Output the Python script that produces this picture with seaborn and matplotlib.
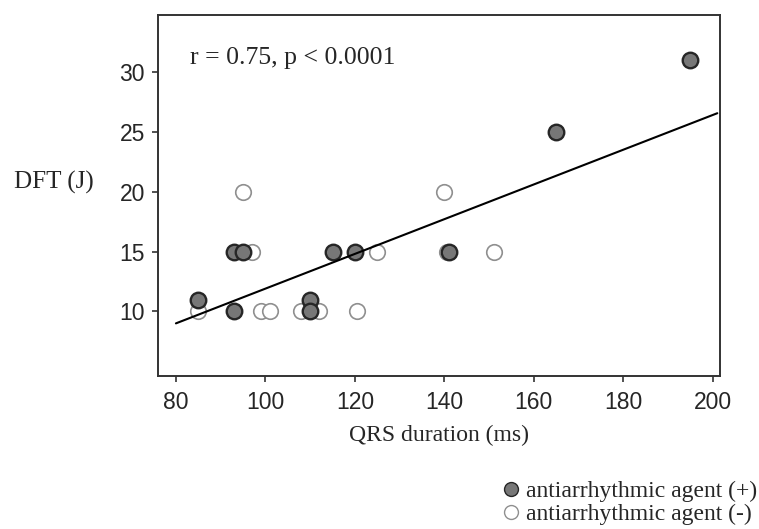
import numpy as np
import pandas as pd
import seaborn as sns
import matplotlib.pyplot as plt
from matplotlib.lines import Line2D

# data
agent_pos_qrs = [85, 93, 93, 95, 110, 110, 115, 120, 141, 165, 195]
agent_pos_dft = [11, 10, 15, 15, 11, 10, 15, 15, 15, 25, 31]
agent_neg_qrs = [85, 95, 97, 99, 101, 108, 112, 120.5, 125, 140, 140.5, 151]
agent_neg_dft = [10, 20, 15, 10, 10, 10, 10, 10, 15, 20, 15, 15]

# regression line as drawn in the figure
fit_x = [80, 201]
fit_slope = 0.1453
fit_intercept = -2.62

x_ticks = [80, 100, 120, 140, 160, 180, 200]
y_ticks = [10, 15, 20, 25, 30]
stat_text = "r = 0.75, p < 0.0001"
labels = ["antiarrhythmic agent (+)", "antiarrhythmic agent (-)"]

sns.set_theme(style="ticks")
serif = ["Liberation Serif", "DejaVu Serif"]
plt.rcParams["font.family"] = ["Liberation Sans", "DejaVu Sans"]

df = pd.concat([
    pd.DataFrame({"qrs": agent_neg_qrs, "dft": agent_neg_dft, "group": labels[1]}),
    pd.DataFrame({"qrs": agent_pos_qrs, "dft": agent_pos_dft, "group": labels[0]}),
])

fig = plt.figure(figsize=(7.59, 5.29), dpi=100)
ax = fig.add_axes([0.2082, 0.2892, 0.7404, 0.6824])

# open circles first, filled on top
sns.scatterplot(data=df[df["group"] == labels[1]], x="qrs", y="dft", ax=ax,
                s=125, color="white", edgecolor="#8f8f8f", linewidth=1.2,
                legend=False, zorder=2)
sns.scatterplot(data=df[df["group"] == labels[0]], x="qrs", y="dft", ax=ax,
                s=125, color="#777777", edgecolor="#262626", linewidth=1.7,
                legend=False, zorder=3)

line_y = [fit_intercept + fit_slope * v for v in fit_x]
sns.lineplot(x=fit_x, y=line_y, ax=ax, color="black", linewidth=1.5, zorder=4)

ax.set_xlim(76, 201.6)
ax.set_ylim(4.6, 34.8)
ax.set_xticks(x_ticks)
ax.set_yticks(y_ticks)
ax.tick_params(labelsize=16.5, length=4.5, width=1.2, color="#333333")
ax.tick_params(axis="x", pad=6)
ax.tick_params(axis="y", pad=5)
for sp in ax.spines.values():
    sp.set_linewidth(1.4)
    sp.set_color("#333333")

ax.set_xlabel("QRS duration (ms)", fontsize=17, family=serif)
ax.xaxis.set_label_coords(0.5, -0.135)
ax.set_ylabel("")
fig.text(0.018, 0.655, "DFT (J)", fontsize=18, family=serif, va="center")
ax.text(0.057, 0.881, stat_text, transform=ax.transAxes, fontsize=18.5,
        family=serif, va="center")

handles = [
    Line2D([], [], marker="o", linestyle="", markersize=10,
           markerfacecolor="#777777", markeredgecolor="#262626"),
    Line2D([], [], marker="o", linestyle="", markersize=10,
           markerfacecolor="white", markeredgecolor="#8f8f8f"),
]
fig.legend(handles, labels, loc="lower right", bbox_to_anchor=(0.998, 0.008),
           frameon=False, prop={"family": serif, "size": 17},
           borderpad=0, borderaxespad=0,
           handletextpad=0.15, labelspacing=0.05, handlelength=1.0)

fig.savefig("out.png", dpi=100)
